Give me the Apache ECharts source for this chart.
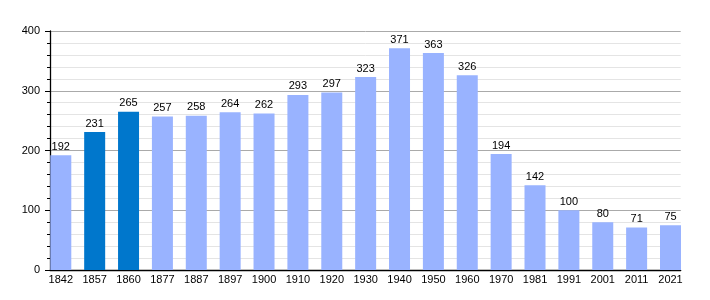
<!DOCTYPE html>
<html><head><meta charset="utf-8">
<script src="https://cdn.jsdelivr.net/npm/echarts@6/dist/echarts.min.js"></script>
<style>html,body{margin:0;padding:0;background:#fff}#c{width:710px;height:300px}</style>
</head><body><div id="c"></div>
<script>
var years = ['1842','1857','1860','1877','1887','1897','1900','1910','1920','1930','1940','1950','1960','1970','1981','1991','2001','2011','2021'];
var population = [192,231,265,257,258,264,262,293,297,323,371,363,326,194,142,100,80,71,75];
var highlighted = ['1857','1860'];
var yTicks = [0,100,200,300,400];

var chart = echarts.init(document.getElementById('c'), null, {renderer:'canvas'});
var font = 'Liberation Sans, Arial, sans-serif';
chart.setOption({
  animation:false,
  grid:[
    {left:50, right:29.3, top:31, bottom:30},
    {left:60.8, right:39.5, top:31, bottom:30}
  ],
  xAxis:[
    {gridIndex:0, type:'value', min:0, max:1, show:true,
     axisLine:{show:true, onZero:false, lineStyle:{color:'#000', width:1.3}},
     axisTick:{show:false}, axisLabel:{show:false}, splitLine:{show:false}},
    {gridIndex:1, type:'category', data:years, boundaryGap:false,
     axisLine:{show:false}, axisTick:{show:false},
     axisLabel:{color:'#000', fontSize:11, fontFamily:font, margin:4, interval:0},
     splitLine:{show:false}}
  ],
  yAxis:[
    {gridIndex:0, type:'value', min:yTicks[0], max:yTicks[yTicks.length-1], interval:100,
     axisLine:{show:true, lineStyle:{color:'#000', width:1.3}},
     axisTick:{show:true, length:5, lineStyle:{color:'#000'}},
     minorTick:{show:true, splitNumber:5, length:3, lineStyle:{color:'#000'}},
     axisLabel:{color:'#000', fontSize:11, fontFamily:font, margin:10},
     splitLine:{show:true, lineStyle:{color:'#aaaaaa', width:1}},
     minorSplitLine:{show:true, lineStyle:{color:'#e4e4e4', width:1}}},
    {gridIndex:1, type:'value', min:0, max:400, interval:100, show:false}
  ],
  series:[{
    type:'bar', xAxisIndex:1, yAxisIndex:1, barWidth:21,
    data: population.map(function(v,i){
      return {value:v, itemStyle:{color: highlighted.indexOf(years[i])>=0 ? '#0077cc' : '#99b3ff'}};
    }),
    label:{show:true, position:'top', distance:3, color:'#000', fontSize:11, fontFamily:font}
  }]
});
</script></body></html>
